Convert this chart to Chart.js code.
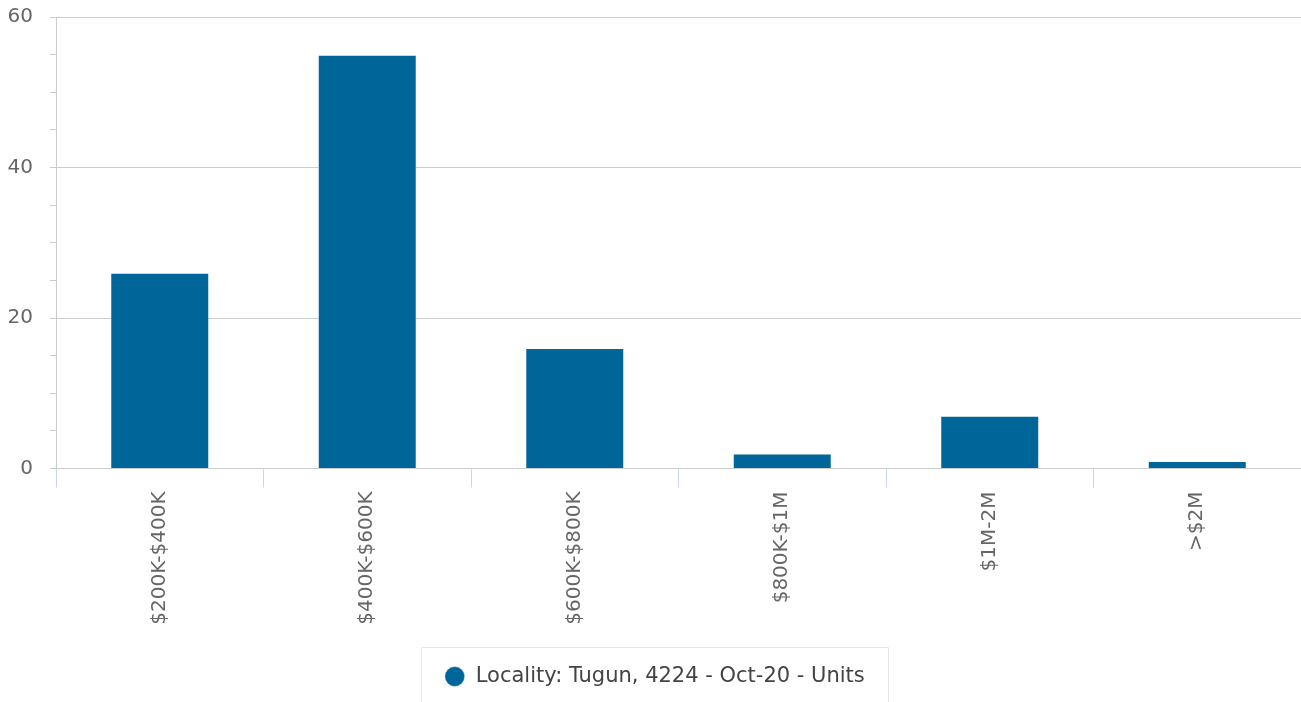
<!DOCTYPE html>
<html>
<head>
<meta charset="utf-8">
<script src="https://cdn.jsdelivr.net/npm/chart.js@4/dist/chart.umd.min.js"></script>
<style>
  html, body { margin: 0; padding: 0; background: #ffffff; }
  #wrap { width: 1301px; height: 702px; position: relative; }
</style>
</head>
<body>
<div id="wrap"><canvas id="c"></canvas></div>
<script>
const categories = ['$200K-$400K', '$400K-$600K', '$600K-$800K', '$800K-$1M', '$1M-2M', '>$2M'];
const seriesName = 'Locality: Tugun, 4224 - Oct-20 - Units';
const seriesValues = [26, 55, 16, 2, 7, 1];
const yMajorTicks = [0, 20, 40, 60];

const FONT = 'DejaVu Sans';

const legendBoxPlugin = {
  id: 'legendBox',
  afterDraw(chart) {
    const lg = chart.legend;
    if (!lg || !lg.legendHitBoxes || !lg.legendHitBoxes.length) return;
    const hb = lg.legendHitBoxes[0];
    const ctx = chart.ctx;
    ctx.save();
    ctx.strokeStyle = '#e6e6e6';
    ctx.lineWidth = 1;
    const x0 = Math.round(hb.left - 23) + 0.5;
    const x1 = Math.round(hb.left + hb.width + 23) + 0.5;
    const y0 = Math.round(lg.top) - 0.5;
    ctx.beginPath();
    ctx.moveTo(x0, chart.height + 5);
    ctx.lineTo(x0, y0);
    ctx.lineTo(x1, y0);
    ctx.lineTo(x1, chart.height + 5);
    ctx.stroke();
    ctx.restore();
  }
};

new Chart(document.getElementById('c'), {
  type: 'bar',
  data: {
    labels: categories,
    datasets: [{
      label: seriesName,
      data: seriesValues,
      backgroundColor: '#006699',
      borderColor: 'rgba(255,255,255,0.35)',
      borderWidth: 1,
      categoryPercentage: 1,
      barPercentage: 0.477
    }]
  },
  options: {
    responsive: true,
    maintainAspectRatio: false,
    animation: false,
    layout: { padding: { top: 0, left: 8, right: 0, bottom: 5 } },
    plugins: {
      tooltip: { enabled: false },
      legend: {
        position: 'bottom',
        labels: {
          usePointStyle: true,
          pointStyle: 'circle',
          boxHeight: 14,
          padding: 18.5,
          color: '#444444',
          font: { family: FONT, size: 21 }
        }
      }
    },
    scales: {
      x: {
        grid: {
          offset: true,
          drawOnChartArea: false,
          tickLength: 19,
          tickColor: '#ccd6eb',
          lineWidth: 1
        },
        border: { color: '#cccccc', width: 1 },
        ticks: {
          color: '#666666',
          font: { family: FONT, size: 20 },
          maxRotation: 90,
          minRotation: 90,
          padding: 4,
          autoSkip: false
        },
        afterFit(scale) { scale.height = 179; }
      },
      y: {
        min: 0,
        max: 60,
        grid: {
          color: (ctx) => (ctx.tick && yMajorTicks.includes(ctx.tick.value)) ? '#cccccc' : 'rgba(0,0,0,0)',
          tickColor: '#cccccc',
          tickLength: 6,
          lineWidth: 1
        },
        border: { color: '#cccccc', width: 1 },
        ticks: {
          stepSize: 5,
          autoSkip: false,
          padding: 17,
          color: '#666666',
          font: { family: FONT, size: 20 },
          callback: (v) => yMajorTicks.includes(v) ? String(v) : ''
        },
        afterFit(scale) { scale.width = 48; scale.paddingTop = 17; }
      }
    }
  },
  plugins: [legendBoxPlugin]
});
</script>
</body>
</html>
